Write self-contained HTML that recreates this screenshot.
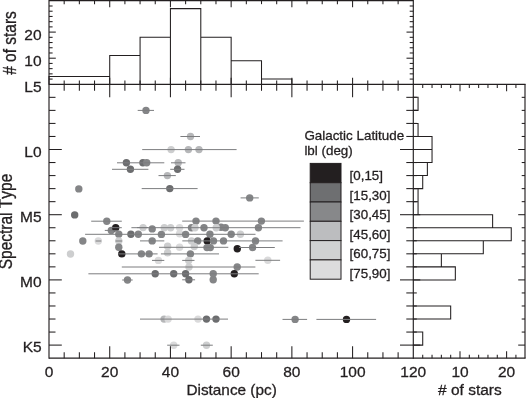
<!DOCTYPE html>
<html lang="en">
<head>
<meta charset="utf-8">
<title>Spectral Type vs Distance</title>
<style>
html,body{margin:0;padding:0;background:#fff;}
body{width:526px;height:398px;overflow:hidden;}
svg{display:block;}
svg text{font-family:"Liberation Sans",sans-serif;fill:#231f20;stroke:#231f20;stroke-width:0.3px;font-kerning:none;}
</style>
</head>
<body>
<svg width="526" height="398" viewBox="0 0 526 398">
<rect x="0" y="0" width="526" height="398" fill="#ffffff"/>
<g>
<circle cx="146.0" cy="110.4" r="3.7" fill="#848587"/>
<circle cx="190.5" cy="136.5" r="3.7" fill="#b6b7b9"/>
<circle cx="171.1" cy="149.6" r="3.7" fill="#cdcecf"/>
<circle cx="188.4" cy="149.6" r="3.7" fill="#b6b7b9"/>
<circle cx="199.0" cy="149.6" r="3.7" fill="#b6b7b9"/>
<circle cx="126.4" cy="162.8" r="3.7" fill="#6c6d6f"/>
<circle cx="142.9" cy="162.8" r="3.7" fill="#6c6d6f"/>
<circle cx="146.7" cy="162.8" r="3.7" fill="#848587"/>
<circle cx="178.2" cy="162.8" r="3.7" fill="#b6b7b9"/>
<circle cx="130.4" cy="169.3" r="3.7" fill="#6c6d6f"/>
<circle cx="177.6" cy="169.3" r="3.7" fill="#6c6d6f"/>
<circle cx="167.4" cy="175.6" r="3.7" fill="#b6b7b9"/>
<circle cx="169.8" cy="188.6" r="3.7" fill="#6c6d6f"/>
<circle cx="78.8" cy="188.9" r="3.7" fill="#848587"/>
<circle cx="249.7" cy="197.9" r="3.7" fill="#848587"/>
<circle cx="74.7" cy="214.9" r="3.7" fill="#6c6d6f"/>
<circle cx="106.8" cy="221.2" r="3.7" fill="#848587"/>
<circle cx="196.0" cy="221.1" r="3.7" fill="#848587"/>
<circle cx="216.0" cy="221.1" r="3.7" fill="#848587"/>
<circle cx="261.4" cy="221.1" r="3.7" fill="#848587"/>
<circle cx="111.3" cy="230.4" r="3.7" fill="#848587"/>
<circle cx="115.7" cy="227.7" r="3.7" fill="#231f20"/>
<circle cx="143.1" cy="227.6" r="3.7" fill="#cdcecf"/>
<circle cx="152.2" cy="228.9" r="3.7" fill="#848587"/>
<circle cx="164.3" cy="227.7" r="3.7" fill="#cdcecf"/>
<circle cx="170.6" cy="227.7" r="3.7" fill="#cdcecf"/>
<circle cx="179.6" cy="227.7" r="3.7" fill="#dadadb"/>
<circle cx="191.5" cy="227.7" r="3.7" fill="#848587"/>
<circle cx="195.0" cy="227.7" r="3.7" fill="#cdcecf"/>
<circle cx="204.0" cy="227.7" r="3.7" fill="#848587"/>
<circle cx="221.0" cy="227.3" r="3.7" fill="#848587"/>
<circle cx="216.2" cy="227.7" r="3.7" fill="#cdcecf"/>
<circle cx="225.3" cy="227.7" r="3.7" fill="#848587"/>
<circle cx="258.4" cy="227.7" r="3.7" fill="#848587"/>
<circle cx="118.8" cy="234.3" r="3.7" fill="#848587"/>
<circle cx="130.9" cy="234.3" r="3.7" fill="#6c6d6f"/>
<circle cx="138.3" cy="234.3" r="3.7" fill="#848587"/>
<circle cx="161.4" cy="234.4" r="3.7" fill="#848587"/>
<circle cx="179.6" cy="233.8" r="3.7" fill="#dadadb"/>
<circle cx="185.6" cy="234.4" r="3.7" fill="#848587"/>
<circle cx="209.9" cy="234.3" r="3.7" fill="#848587"/>
<circle cx="231.2" cy="234.3" r="3.7" fill="#848587"/>
<circle cx="240.4" cy="234.3" r="3.7" fill="#cdcecf"/>
<circle cx="82.8" cy="241.0" r="3.7" fill="#848587"/>
<circle cx="98.3" cy="241.0" r="3.7" fill="#dadadb"/>
<circle cx="118.8" cy="241.0" r="3.7" fill="#cdcecf"/>
<circle cx="152.2" cy="240.9" r="3.7" fill="#848587"/>
<circle cx="191.5" cy="240.9" r="3.7" fill="#cdcecf"/>
<circle cx="197.7" cy="240.9" r="3.7" fill="#848587"/>
<circle cx="207.2" cy="240.9" r="3.7" fill="#231f20"/>
<circle cx="213.5" cy="240.9" r="3.7" fill="#848587"/>
<circle cx="223.5" cy="240.9" r="3.7" fill="#848587"/>
<circle cx="255.5" cy="241.0" r="3.7" fill="#848587"/>
<circle cx="118.8" cy="247.3" r="3.7" fill="#848587"/>
<circle cx="167.6" cy="246.2" r="3.7" fill="#cdcecf"/>
<circle cx="179.6" cy="247.3" r="3.7" fill="#dadadb"/>
<circle cx="194.3" cy="246.5" r="3.7" fill="#cdcecf"/>
<circle cx="207.0" cy="247.6" r="3.7" fill="#848587"/>
<circle cx="210.3" cy="247.6" r="3.7" fill="#848587"/>
<circle cx="237.3" cy="248.7" r="3.7" fill="#231f20"/>
<circle cx="252.6" cy="247.5" r="3.7" fill="#848587"/>
<circle cx="70.5" cy="254.0" r="3.7" fill="#cdcecf"/>
<circle cx="121.8" cy="253.9" r="3.7" fill="#231f20"/>
<circle cx="141.4" cy="253.9" r="3.7" fill="#848587"/>
<circle cx="149.1" cy="253.9" r="3.7" fill="#848587"/>
<circle cx="167.6" cy="252.8" r="3.7" fill="#cdcecf"/>
<circle cx="190.4" cy="253.9" r="3.7" fill="#848587"/>
<circle cx="158.4" cy="260.4" r="3.7" fill="#dadadb"/>
<circle cx="188.7" cy="260.4" r="3.7" fill="#cdcecf"/>
<circle cx="267.8" cy="260.3" r="3.7" fill="#dadadb"/>
<circle cx="189.0" cy="267.0" r="3.7" fill="#cdcecf"/>
<circle cx="237.2" cy="267.0" r="3.7" fill="#848587"/>
<circle cx="155.2" cy="273.8" r="3.7" fill="#6c6d6f"/>
<circle cx="173.7" cy="273.8" r="3.7" fill="#6c6d6f"/>
<circle cx="185.6" cy="273.8" r="3.7" fill="#6c6d6f"/>
<circle cx="213.2" cy="273.8" r="3.7" fill="#848587"/>
<circle cx="234.3" cy="273.7" r="3.7" fill="#231f20"/>
<circle cx="127.5" cy="280.0" r="3.7" fill="#848587"/>
<circle cx="188.9" cy="279.8" r="3.7" fill="#6c6d6f"/>
<circle cx="213.2" cy="279.8" r="3.7" fill="#848587"/>
<circle cx="164.1" cy="319.1" r="3.7" fill="#b6b7b9"/>
<circle cx="168.1" cy="319.1" r="3.7" fill="#dadadb"/>
<circle cx="198.0" cy="319.1" r="3.7" fill="#dadadb"/>
<circle cx="206.5" cy="319.1" r="3.7" fill="#6c6d6f"/>
<circle cx="216.0" cy="319.1" r="3.7" fill="#6c6d6f"/>
<circle cx="295.1" cy="319.4" r="3.7" fill="#848587"/>
<circle cx="346.5" cy="319.4" r="3.7" fill="#231f20"/>
<circle cx="173.7" cy="345.2" r="3.7" fill="#dadadb"/>
<circle cx="206.5" cy="345.2" r="3.7" fill="#cdcecf"/>
</g><g>
<line x1="137.70" y1="110.40" x2="154.00" y2="110.40" stroke="#7c7d7f" stroke-width="1.0"/>
<line x1="180.40" y1="136.50" x2="200.00" y2="136.50" stroke="#7c7d7f" stroke-width="1.0"/>
<line x1="142.20" y1="149.60" x2="236.60" y2="149.60" stroke="#7c7d7f" stroke-width="1.0"/>
<line x1="117.00" y1="162.80" x2="164.30" y2="162.80" stroke="#7c7d7f" stroke-width="1.0"/>
<line x1="171.00" y1="162.80" x2="185.50" y2="162.80" stroke="#7c7d7f" stroke-width="1.0"/>
<line x1="112.00" y1="169.30" x2="148.40" y2="169.30" stroke="#7c7d7f" stroke-width="1.0"/>
<line x1="170.20" y1="169.30" x2="184.50" y2="169.30" stroke="#7c7d7f" stroke-width="1.0"/>
<line x1="158.50" y1="175.60" x2="175.80" y2="175.60" stroke="#7c7d7f" stroke-width="1.0"/>
<line x1="141.70" y1="188.60" x2="197.60" y2="188.60" stroke="#7c7d7f" stroke-width="1.0"/>
<line x1="240.60" y1="197.90" x2="258.80" y2="197.90" stroke="#7c7d7f" stroke-width="1.0"/>
<line x1="91.20" y1="221.20" x2="121.80" y2="221.20" stroke="#7c7d7f" stroke-width="1.0"/>
<line x1="182.20" y1="221.10" x2="303.90" y2="221.10" stroke="#7c7d7f" stroke-width="1.0"/>
<line x1="104.80" y1="230.40" x2="118.00" y2="230.40" stroke="#7c7d7f" stroke-width="1.0"/>
<line x1="110.00" y1="227.70" x2="121.80" y2="227.70" stroke="#7c7d7f" stroke-width="1.0"/>
<line x1="137.00" y1="227.60" x2="148.00" y2="227.60" stroke="#7c7d7f" stroke-width="1.0"/>
<line x1="131.40" y1="227.70" x2="300.50" y2="227.70" stroke="#7c7d7f" stroke-width="1.0"/>
<line x1="85.10" y1="234.30" x2="255.50" y2="234.30" stroke="#7c7d7f" stroke-width="1.0"/>
<line x1="95.60" y1="241.00" x2="101.30" y2="241.00" stroke="#7c7d7f" stroke-width="1.0"/>
<line x1="115.50" y1="241.00" x2="122.20" y2="241.00" stroke="#7c7d7f" stroke-width="1.0"/>
<line x1="140.00" y1="240.90" x2="164.30" y2="240.90" stroke="#7c7d7f" stroke-width="1.0"/>
<line x1="182.30" y1="240.90" x2="282.60" y2="240.90" stroke="#7c7d7f" stroke-width="1.0"/>
<line x1="159.00" y1="247.30" x2="228.30" y2="247.30" stroke="#7c7d7f" stroke-width="1.0"/>
<line x1="239.00" y1="247.50" x2="274.80" y2="247.50" stroke="#7c7d7f" stroke-width="1.0"/>
<line x1="118.40" y1="253.90" x2="157.60" y2="253.90" stroke="#7c7d7f" stroke-width="1.0"/>
<line x1="160.90" y1="253.90" x2="219.00" y2="253.90" stroke="#7c7d7f" stroke-width="1.0"/>
<line x1="152.00" y1="260.40" x2="164.30" y2="260.40" stroke="#7c7d7f" stroke-width="1.0"/>
<line x1="182.20" y1="260.40" x2="194.50" y2="260.40" stroke="#7c7d7f" stroke-width="1.0"/>
<line x1="255.40" y1="260.30" x2="280.10" y2="260.30" stroke="#7c7d7f" stroke-width="1.0"/>
<line x1="121.80" y1="267.00" x2="255.40" y2="267.00" stroke="#7c7d7f" stroke-width="1.0"/>
<line x1="88.40" y1="273.80" x2="258.70" y2="273.80" stroke="#7c7d7f" stroke-width="1.0"/>
<line x1="122.20" y1="280.00" x2="132.70" y2="280.00" stroke="#7c7d7f" stroke-width="1.0"/>
<line x1="182.20" y1="279.80" x2="195.10" y2="279.80" stroke="#7c7d7f" stroke-width="1.0"/>
<line x1="140.00" y1="319.10" x2="228.00" y2="319.10" stroke="#7c7d7f" stroke-width="1.0"/>
<line x1="282.50" y1="319.40" x2="307.10" y2="319.40" stroke="#7c7d7f" stroke-width="1.0"/>
<line x1="316.40" y1="319.40" x2="376.10" y2="319.40" stroke="#7c7d7f" stroke-width="1.0"/>
<line x1="167.20" y1="345.20" x2="179.50" y2="345.20" stroke="#7c7d7f" stroke-width="1.0"/>
<line x1="200.80" y1="345.20" x2="212.80" y2="345.20" stroke="#7c7d7f" stroke-width="1.0"/>
</g>
<path d="M49.00 84.30V76.47M49.00 76.47H109.72M109.72 84.30V55.59M109.72 55.59H140.07M140.07 84.30V37.32M140.07 37.32H170.43M170.43 84.30V8.61M170.43 8.61H200.79M200.79 84.30V8.61M200.79 37.32H231.15M231.15 84.30V37.32M231.15 60.81H261.51M261.51 84.30V60.81M261.51 79.08H291.87M291.87 84.30V79.08" fill="none" stroke="#231f20" stroke-width="1.05" stroke-linecap="square"/>
<line x1="49.00" y1="0.55" x2="413.30" y2="0.55" stroke="#231f20" stroke-width="1.15"/>
<line x1="49.00" y1="0.05" x2="49.00" y2="358.71" stroke="#231f20" stroke-width="1.15"/>
<line x1="413.30" y1="0.05" x2="413.30" y2="358.71" stroke="#231f20" stroke-width="1.15"/>
<line x1="49.00" y1="84.30" x2="525.58" y2="84.30" stroke="#231f20" stroke-width="1.15"/>
<line x1="49.00" y1="358.14" x2="525.58" y2="358.14" stroke="#231f20" stroke-width="1.15"/>
<line x1="525.00" y1="84.30" x2="525.00" y2="358.14" stroke="#231f20" stroke-width="1.15"/>
<line x1="64.18" y1="0.55" x2="64.18" y2="4.15" stroke="#231f20" stroke-width="1.05"/>
<line x1="64.18" y1="84.30" x2="64.18" y2="80.50" stroke="#231f20" stroke-width="1.05"/>
<line x1="64.18" y1="84.30" x2="64.18" y2="90.80" stroke="#231f20" stroke-width="1.05"/>
<line x1="64.18" y1="358.14" x2="64.18" y2="352.14" stroke="#231f20" stroke-width="1.05"/>
<line x1="79.36" y1="0.55" x2="79.36" y2="4.15" stroke="#231f20" stroke-width="1.05"/>
<line x1="79.36" y1="84.30" x2="79.36" y2="80.50" stroke="#231f20" stroke-width="1.05"/>
<line x1="79.36" y1="84.30" x2="79.36" y2="90.80" stroke="#231f20" stroke-width="1.05"/>
<line x1="79.36" y1="358.14" x2="79.36" y2="352.14" stroke="#231f20" stroke-width="1.05"/>
<line x1="94.54" y1="0.55" x2="94.54" y2="4.15" stroke="#231f20" stroke-width="1.05"/>
<line x1="94.54" y1="84.30" x2="94.54" y2="80.50" stroke="#231f20" stroke-width="1.05"/>
<line x1="94.54" y1="84.30" x2="94.54" y2="90.80" stroke="#231f20" stroke-width="1.05"/>
<line x1="94.54" y1="358.14" x2="94.54" y2="352.14" stroke="#231f20" stroke-width="1.05"/>
<line x1="109.72" y1="0.55" x2="109.72" y2="7.35" stroke="#231f20" stroke-width="1.05"/>
<line x1="109.72" y1="84.30" x2="109.72" y2="77.80" stroke="#231f20" stroke-width="1.05"/>
<line x1="109.72" y1="84.30" x2="109.72" y2="97.30" stroke="#231f20" stroke-width="1.05"/>
<line x1="109.72" y1="358.14" x2="109.72" y2="346.14" stroke="#231f20" stroke-width="1.05"/>
<line x1="124.90" y1="0.55" x2="124.90" y2="4.15" stroke="#231f20" stroke-width="1.05"/>
<line x1="124.90" y1="84.30" x2="124.90" y2="80.50" stroke="#231f20" stroke-width="1.05"/>
<line x1="124.90" y1="84.30" x2="124.90" y2="90.80" stroke="#231f20" stroke-width="1.05"/>
<line x1="124.90" y1="358.14" x2="124.90" y2="352.14" stroke="#231f20" stroke-width="1.05"/>
<line x1="140.07" y1="0.55" x2="140.07" y2="4.15" stroke="#231f20" stroke-width="1.05"/>
<line x1="140.07" y1="84.30" x2="140.07" y2="80.50" stroke="#231f20" stroke-width="1.05"/>
<line x1="140.07" y1="84.30" x2="140.07" y2="90.80" stroke="#231f20" stroke-width="1.05"/>
<line x1="140.07" y1="358.14" x2="140.07" y2="352.14" stroke="#231f20" stroke-width="1.05"/>
<line x1="155.25" y1="0.55" x2="155.25" y2="4.15" stroke="#231f20" stroke-width="1.05"/>
<line x1="155.25" y1="84.30" x2="155.25" y2="80.50" stroke="#231f20" stroke-width="1.05"/>
<line x1="155.25" y1="84.30" x2="155.25" y2="90.80" stroke="#231f20" stroke-width="1.05"/>
<line x1="155.25" y1="358.14" x2="155.25" y2="352.14" stroke="#231f20" stroke-width="1.05"/>
<line x1="170.43" y1="0.55" x2="170.43" y2="7.35" stroke="#231f20" stroke-width="1.05"/>
<line x1="170.43" y1="84.30" x2="170.43" y2="77.80" stroke="#231f20" stroke-width="1.05"/>
<line x1="170.43" y1="84.30" x2="170.43" y2="97.30" stroke="#231f20" stroke-width="1.05"/>
<line x1="170.43" y1="358.14" x2="170.43" y2="346.14" stroke="#231f20" stroke-width="1.05"/>
<line x1="185.61" y1="0.55" x2="185.61" y2="4.15" stroke="#231f20" stroke-width="1.05"/>
<line x1="185.61" y1="84.30" x2="185.61" y2="80.50" stroke="#231f20" stroke-width="1.05"/>
<line x1="185.61" y1="84.30" x2="185.61" y2="90.80" stroke="#231f20" stroke-width="1.05"/>
<line x1="185.61" y1="358.14" x2="185.61" y2="352.14" stroke="#231f20" stroke-width="1.05"/>
<line x1="200.79" y1="0.55" x2="200.79" y2="4.15" stroke="#231f20" stroke-width="1.05"/>
<line x1="200.79" y1="84.30" x2="200.79" y2="80.50" stroke="#231f20" stroke-width="1.05"/>
<line x1="200.79" y1="84.30" x2="200.79" y2="90.80" stroke="#231f20" stroke-width="1.05"/>
<line x1="200.79" y1="358.14" x2="200.79" y2="352.14" stroke="#231f20" stroke-width="1.05"/>
<line x1="215.97" y1="0.55" x2="215.97" y2="4.15" stroke="#231f20" stroke-width="1.05"/>
<line x1="215.97" y1="84.30" x2="215.97" y2="80.50" stroke="#231f20" stroke-width="1.05"/>
<line x1="215.97" y1="84.30" x2="215.97" y2="90.80" stroke="#231f20" stroke-width="1.05"/>
<line x1="215.97" y1="358.14" x2="215.97" y2="352.14" stroke="#231f20" stroke-width="1.05"/>
<line x1="231.15" y1="0.55" x2="231.15" y2="7.35" stroke="#231f20" stroke-width="1.05"/>
<line x1="231.15" y1="84.30" x2="231.15" y2="77.80" stroke="#231f20" stroke-width="1.05"/>
<line x1="231.15" y1="84.30" x2="231.15" y2="97.30" stroke="#231f20" stroke-width="1.05"/>
<line x1="231.15" y1="358.14" x2="231.15" y2="346.14" stroke="#231f20" stroke-width="1.05"/>
<line x1="246.33" y1="0.55" x2="246.33" y2="4.15" stroke="#231f20" stroke-width="1.05"/>
<line x1="246.33" y1="84.30" x2="246.33" y2="80.50" stroke="#231f20" stroke-width="1.05"/>
<line x1="246.33" y1="84.30" x2="246.33" y2="90.80" stroke="#231f20" stroke-width="1.05"/>
<line x1="246.33" y1="358.14" x2="246.33" y2="352.14" stroke="#231f20" stroke-width="1.05"/>
<line x1="261.51" y1="0.55" x2="261.51" y2="4.15" stroke="#231f20" stroke-width="1.05"/>
<line x1="261.51" y1="84.30" x2="261.51" y2="80.50" stroke="#231f20" stroke-width="1.05"/>
<line x1="261.51" y1="84.30" x2="261.51" y2="90.80" stroke="#231f20" stroke-width="1.05"/>
<line x1="261.51" y1="358.14" x2="261.51" y2="352.14" stroke="#231f20" stroke-width="1.05"/>
<line x1="276.69" y1="0.55" x2="276.69" y2="4.15" stroke="#231f20" stroke-width="1.05"/>
<line x1="276.69" y1="84.30" x2="276.69" y2="80.50" stroke="#231f20" stroke-width="1.05"/>
<line x1="276.69" y1="84.30" x2="276.69" y2="90.80" stroke="#231f20" stroke-width="1.05"/>
<line x1="276.69" y1="358.14" x2="276.69" y2="352.14" stroke="#231f20" stroke-width="1.05"/>
<line x1="291.87" y1="0.55" x2="291.87" y2="7.35" stroke="#231f20" stroke-width="1.05"/>
<line x1="291.87" y1="84.30" x2="291.87" y2="77.80" stroke="#231f20" stroke-width="1.05"/>
<line x1="291.87" y1="84.30" x2="291.87" y2="97.30" stroke="#231f20" stroke-width="1.05"/>
<line x1="291.87" y1="358.14" x2="291.87" y2="346.14" stroke="#231f20" stroke-width="1.05"/>
<line x1="307.05" y1="0.55" x2="307.05" y2="4.15" stroke="#231f20" stroke-width="1.05"/>
<line x1="307.05" y1="84.30" x2="307.05" y2="80.50" stroke="#231f20" stroke-width="1.05"/>
<line x1="307.05" y1="84.30" x2="307.05" y2="90.80" stroke="#231f20" stroke-width="1.05"/>
<line x1="307.05" y1="358.14" x2="307.05" y2="352.14" stroke="#231f20" stroke-width="1.05"/>
<line x1="322.23" y1="0.55" x2="322.23" y2="4.15" stroke="#231f20" stroke-width="1.05"/>
<line x1="322.23" y1="84.30" x2="322.23" y2="80.50" stroke="#231f20" stroke-width="1.05"/>
<line x1="322.23" y1="84.30" x2="322.23" y2="90.80" stroke="#231f20" stroke-width="1.05"/>
<line x1="322.23" y1="358.14" x2="322.23" y2="352.14" stroke="#231f20" stroke-width="1.05"/>
<line x1="337.40" y1="0.55" x2="337.40" y2="4.15" stroke="#231f20" stroke-width="1.05"/>
<line x1="337.40" y1="84.30" x2="337.40" y2="80.50" stroke="#231f20" stroke-width="1.05"/>
<line x1="337.40" y1="84.30" x2="337.40" y2="90.80" stroke="#231f20" stroke-width="1.05"/>
<line x1="337.40" y1="358.14" x2="337.40" y2="352.14" stroke="#231f20" stroke-width="1.05"/>
<line x1="352.58" y1="0.55" x2="352.58" y2="7.35" stroke="#231f20" stroke-width="1.05"/>
<line x1="352.58" y1="84.30" x2="352.58" y2="77.80" stroke="#231f20" stroke-width="1.05"/>
<line x1="352.58" y1="84.30" x2="352.58" y2="97.30" stroke="#231f20" stroke-width="1.05"/>
<line x1="352.58" y1="358.14" x2="352.58" y2="346.14" stroke="#231f20" stroke-width="1.05"/>
<line x1="367.76" y1="0.55" x2="367.76" y2="4.15" stroke="#231f20" stroke-width="1.05"/>
<line x1="367.76" y1="84.30" x2="367.76" y2="80.50" stroke="#231f20" stroke-width="1.05"/>
<line x1="367.76" y1="84.30" x2="367.76" y2="90.80" stroke="#231f20" stroke-width="1.05"/>
<line x1="367.76" y1="358.14" x2="367.76" y2="352.14" stroke="#231f20" stroke-width="1.05"/>
<line x1="382.94" y1="0.55" x2="382.94" y2="4.15" stroke="#231f20" stroke-width="1.05"/>
<line x1="382.94" y1="84.30" x2="382.94" y2="80.50" stroke="#231f20" stroke-width="1.05"/>
<line x1="382.94" y1="84.30" x2="382.94" y2="90.80" stroke="#231f20" stroke-width="1.05"/>
<line x1="382.94" y1="358.14" x2="382.94" y2="352.14" stroke="#231f20" stroke-width="1.05"/>
<line x1="398.12" y1="0.55" x2="398.12" y2="4.15" stroke="#231f20" stroke-width="1.05"/>
<line x1="398.12" y1="84.30" x2="398.12" y2="80.50" stroke="#231f20" stroke-width="1.05"/>
<line x1="398.12" y1="84.30" x2="398.12" y2="90.80" stroke="#231f20" stroke-width="1.05"/>
<line x1="398.12" y1="358.14" x2="398.12" y2="352.14" stroke="#231f20" stroke-width="1.05"/>
<line x1="49.00" y1="79.08" x2="52.60" y2="79.08" stroke="#231f20" stroke-width="1.05"/>
<line x1="413.30" y1="79.08" x2="409.70" y2="79.08" stroke="#231f20" stroke-width="1.05"/>
<line x1="49.00" y1="73.86" x2="52.60" y2="73.86" stroke="#231f20" stroke-width="1.05"/>
<line x1="413.30" y1="73.86" x2="409.70" y2="73.86" stroke="#231f20" stroke-width="1.05"/>
<line x1="49.00" y1="68.64" x2="52.60" y2="68.64" stroke="#231f20" stroke-width="1.05"/>
<line x1="413.30" y1="68.64" x2="409.70" y2="68.64" stroke="#231f20" stroke-width="1.05"/>
<line x1="49.00" y1="63.42" x2="52.60" y2="63.42" stroke="#231f20" stroke-width="1.05"/>
<line x1="413.30" y1="63.42" x2="409.70" y2="63.42" stroke="#231f20" stroke-width="1.05"/>
<line x1="49.00" y1="58.20" x2="55.80" y2="58.20" stroke="#231f20" stroke-width="1.05"/>
<line x1="413.30" y1="58.20" x2="406.50" y2="58.20" stroke="#231f20" stroke-width="1.05"/>
<line x1="49.00" y1="52.98" x2="52.60" y2="52.98" stroke="#231f20" stroke-width="1.05"/>
<line x1="413.30" y1="52.98" x2="409.70" y2="52.98" stroke="#231f20" stroke-width="1.05"/>
<line x1="49.00" y1="47.76" x2="52.60" y2="47.76" stroke="#231f20" stroke-width="1.05"/>
<line x1="413.30" y1="47.76" x2="409.70" y2="47.76" stroke="#231f20" stroke-width="1.05"/>
<line x1="49.00" y1="42.54" x2="52.60" y2="42.54" stroke="#231f20" stroke-width="1.05"/>
<line x1="413.30" y1="42.54" x2="409.70" y2="42.54" stroke="#231f20" stroke-width="1.05"/>
<line x1="49.00" y1="37.32" x2="52.60" y2="37.32" stroke="#231f20" stroke-width="1.05"/>
<line x1="413.30" y1="37.32" x2="409.70" y2="37.32" stroke="#231f20" stroke-width="1.05"/>
<line x1="49.00" y1="32.10" x2="55.80" y2="32.10" stroke="#231f20" stroke-width="1.05"/>
<line x1="413.30" y1="32.10" x2="406.50" y2="32.10" stroke="#231f20" stroke-width="1.05"/>
<line x1="49.00" y1="26.88" x2="52.60" y2="26.88" stroke="#231f20" stroke-width="1.05"/>
<line x1="413.30" y1="26.88" x2="409.70" y2="26.88" stroke="#231f20" stroke-width="1.05"/>
<line x1="49.00" y1="21.66" x2="52.60" y2="21.66" stroke="#231f20" stroke-width="1.05"/>
<line x1="413.30" y1="21.66" x2="409.70" y2="21.66" stroke="#231f20" stroke-width="1.05"/>
<line x1="49.00" y1="16.44" x2="52.60" y2="16.44" stroke="#231f20" stroke-width="1.05"/>
<line x1="413.30" y1="16.44" x2="409.70" y2="16.44" stroke="#231f20" stroke-width="1.05"/>
<line x1="49.00" y1="11.22" x2="52.60" y2="11.22" stroke="#231f20" stroke-width="1.05"/>
<line x1="413.30" y1="11.22" x2="409.70" y2="11.22" stroke="#231f20" stroke-width="1.05"/>
<line x1="49.00" y1="6.00" x2="52.60" y2="6.00" stroke="#231f20" stroke-width="1.05"/>
<line x1="413.30" y1="6.00" x2="409.70" y2="6.00" stroke="#231f20" stroke-width="1.05"/>
<line x1="49.00" y1="97.34" x2="55.50" y2="97.34" stroke="#231f20" stroke-width="1.05"/>
<line x1="406.30" y1="97.34" x2="416.80" y2="97.34" stroke="#231f20" stroke-width="1.05"/>
<line x1="525.00" y1="97.34" x2="521.70" y2="97.34" stroke="#231f20" stroke-width="1.05"/>
<line x1="49.00" y1="110.38" x2="55.50" y2="110.38" stroke="#231f20" stroke-width="1.05"/>
<line x1="406.30" y1="110.38" x2="416.80" y2="110.38" stroke="#231f20" stroke-width="1.05"/>
<line x1="525.00" y1="110.38" x2="521.70" y2="110.38" stroke="#231f20" stroke-width="1.05"/>
<line x1="49.00" y1="123.42" x2="55.50" y2="123.42" stroke="#231f20" stroke-width="1.05"/>
<line x1="406.30" y1="123.42" x2="416.80" y2="123.42" stroke="#231f20" stroke-width="1.05"/>
<line x1="525.00" y1="123.42" x2="521.70" y2="123.42" stroke="#231f20" stroke-width="1.05"/>
<line x1="49.00" y1="136.46" x2="55.50" y2="136.46" stroke="#231f20" stroke-width="1.05"/>
<line x1="406.30" y1="136.46" x2="416.80" y2="136.46" stroke="#231f20" stroke-width="1.05"/>
<line x1="525.00" y1="136.46" x2="521.70" y2="136.46" stroke="#231f20" stroke-width="1.05"/>
<line x1="49.00" y1="149.50" x2="61.80" y2="149.50" stroke="#231f20" stroke-width="1.05"/>
<line x1="400.00" y1="149.50" x2="420.30" y2="149.50" stroke="#231f20" stroke-width="1.05"/>
<line x1="525.00" y1="149.50" x2="518.20" y2="149.50" stroke="#231f20" stroke-width="1.05"/>
<line x1="49.00" y1="162.54" x2="55.50" y2="162.54" stroke="#231f20" stroke-width="1.05"/>
<line x1="406.30" y1="162.54" x2="416.80" y2="162.54" stroke="#231f20" stroke-width="1.05"/>
<line x1="525.00" y1="162.54" x2="521.70" y2="162.54" stroke="#231f20" stroke-width="1.05"/>
<line x1="49.00" y1="175.58" x2="55.50" y2="175.58" stroke="#231f20" stroke-width="1.05"/>
<line x1="406.30" y1="175.58" x2="416.80" y2="175.58" stroke="#231f20" stroke-width="1.05"/>
<line x1="525.00" y1="175.58" x2="521.70" y2="175.58" stroke="#231f20" stroke-width="1.05"/>
<line x1="49.00" y1="188.62" x2="55.50" y2="188.62" stroke="#231f20" stroke-width="1.05"/>
<line x1="406.30" y1="188.62" x2="416.80" y2="188.62" stroke="#231f20" stroke-width="1.05"/>
<line x1="525.00" y1="188.62" x2="521.70" y2="188.62" stroke="#231f20" stroke-width="1.05"/>
<line x1="49.00" y1="201.66" x2="55.50" y2="201.66" stroke="#231f20" stroke-width="1.05"/>
<line x1="406.30" y1="201.66" x2="416.80" y2="201.66" stroke="#231f20" stroke-width="1.05"/>
<line x1="525.00" y1="201.66" x2="521.70" y2="201.66" stroke="#231f20" stroke-width="1.05"/>
<line x1="49.00" y1="214.70" x2="61.80" y2="214.70" stroke="#231f20" stroke-width="1.05"/>
<line x1="400.00" y1="214.70" x2="420.30" y2="214.70" stroke="#231f20" stroke-width="1.05"/>
<line x1="525.00" y1="214.70" x2="518.20" y2="214.70" stroke="#231f20" stroke-width="1.05"/>
<line x1="49.00" y1="227.74" x2="55.50" y2="227.74" stroke="#231f20" stroke-width="1.05"/>
<line x1="406.30" y1="227.74" x2="416.80" y2="227.74" stroke="#231f20" stroke-width="1.05"/>
<line x1="525.00" y1="227.74" x2="521.70" y2="227.74" stroke="#231f20" stroke-width="1.05"/>
<line x1="49.00" y1="240.78" x2="55.50" y2="240.78" stroke="#231f20" stroke-width="1.05"/>
<line x1="406.30" y1="240.78" x2="416.80" y2="240.78" stroke="#231f20" stroke-width="1.05"/>
<line x1="525.00" y1="240.78" x2="521.70" y2="240.78" stroke="#231f20" stroke-width="1.05"/>
<line x1="49.00" y1="253.82" x2="55.50" y2="253.82" stroke="#231f20" stroke-width="1.05"/>
<line x1="406.30" y1="253.82" x2="416.80" y2="253.82" stroke="#231f20" stroke-width="1.05"/>
<line x1="525.00" y1="253.82" x2="521.70" y2="253.82" stroke="#231f20" stroke-width="1.05"/>
<line x1="49.00" y1="266.86" x2="55.50" y2="266.86" stroke="#231f20" stroke-width="1.05"/>
<line x1="406.30" y1="266.86" x2="416.80" y2="266.86" stroke="#231f20" stroke-width="1.05"/>
<line x1="525.00" y1="266.86" x2="521.70" y2="266.86" stroke="#231f20" stroke-width="1.05"/>
<line x1="49.00" y1="279.90" x2="61.80" y2="279.90" stroke="#231f20" stroke-width="1.05"/>
<line x1="400.00" y1="279.90" x2="420.30" y2="279.90" stroke="#231f20" stroke-width="1.05"/>
<line x1="525.00" y1="279.90" x2="518.20" y2="279.90" stroke="#231f20" stroke-width="1.05"/>
<line x1="49.00" y1="292.94" x2="55.50" y2="292.94" stroke="#231f20" stroke-width="1.05"/>
<line x1="406.30" y1="292.94" x2="416.80" y2="292.94" stroke="#231f20" stroke-width="1.05"/>
<line x1="525.00" y1="292.94" x2="521.70" y2="292.94" stroke="#231f20" stroke-width="1.05"/>
<line x1="49.00" y1="305.98" x2="55.50" y2="305.98" stroke="#231f20" stroke-width="1.05"/>
<line x1="406.30" y1="305.98" x2="416.80" y2="305.98" stroke="#231f20" stroke-width="1.05"/>
<line x1="525.00" y1="305.98" x2="521.70" y2="305.98" stroke="#231f20" stroke-width="1.05"/>
<line x1="49.00" y1="319.02" x2="55.50" y2="319.02" stroke="#231f20" stroke-width="1.05"/>
<line x1="406.30" y1="319.02" x2="416.80" y2="319.02" stroke="#231f20" stroke-width="1.05"/>
<line x1="525.00" y1="319.02" x2="521.70" y2="319.02" stroke="#231f20" stroke-width="1.05"/>
<line x1="49.00" y1="332.06" x2="55.50" y2="332.06" stroke="#231f20" stroke-width="1.05"/>
<line x1="406.30" y1="332.06" x2="416.80" y2="332.06" stroke="#231f20" stroke-width="1.05"/>
<line x1="525.00" y1="332.06" x2="521.70" y2="332.06" stroke="#231f20" stroke-width="1.05"/>
<line x1="49.00" y1="345.10" x2="61.80" y2="345.10" stroke="#231f20" stroke-width="1.05"/>
<line x1="400.00" y1="345.10" x2="420.30" y2="345.10" stroke="#231f20" stroke-width="1.05"/>
<line x1="525.00" y1="345.10" x2="518.20" y2="345.10" stroke="#231f20" stroke-width="1.05"/>
<line x1="422.72" y1="84.30" x2="422.72" y2="88.10" stroke="#231f20" stroke-width="1.05"/>
<line x1="422.72" y1="358.14" x2="422.72" y2="354.64" stroke="#231f20" stroke-width="1.05"/>
<line x1="432.04" y1="84.30" x2="432.04" y2="88.10" stroke="#231f20" stroke-width="1.05"/>
<line x1="432.04" y1="358.14" x2="432.04" y2="354.64" stroke="#231f20" stroke-width="1.05"/>
<line x1="441.36" y1="84.30" x2="441.36" y2="88.10" stroke="#231f20" stroke-width="1.05"/>
<line x1="441.36" y1="358.14" x2="441.36" y2="354.64" stroke="#231f20" stroke-width="1.05"/>
<line x1="450.68" y1="84.30" x2="450.68" y2="88.10" stroke="#231f20" stroke-width="1.05"/>
<line x1="450.68" y1="358.14" x2="450.68" y2="354.64" stroke="#231f20" stroke-width="1.05"/>
<line x1="460.00" y1="84.30" x2="460.00" y2="91.30" stroke="#231f20" stroke-width="1.05"/>
<line x1="460.00" y1="358.14" x2="460.00" y2="351.14" stroke="#231f20" stroke-width="1.05"/>
<line x1="469.32" y1="84.30" x2="469.32" y2="88.10" stroke="#231f20" stroke-width="1.05"/>
<line x1="469.32" y1="358.14" x2="469.32" y2="354.64" stroke="#231f20" stroke-width="1.05"/>
<line x1="478.64" y1="84.30" x2="478.64" y2="88.10" stroke="#231f20" stroke-width="1.05"/>
<line x1="478.64" y1="358.14" x2="478.64" y2="354.64" stroke="#231f20" stroke-width="1.05"/>
<line x1="487.96" y1="84.30" x2="487.96" y2="88.10" stroke="#231f20" stroke-width="1.05"/>
<line x1="487.96" y1="358.14" x2="487.96" y2="354.64" stroke="#231f20" stroke-width="1.05"/>
<line x1="497.28" y1="84.30" x2="497.28" y2="88.10" stroke="#231f20" stroke-width="1.05"/>
<line x1="497.28" y1="358.14" x2="497.28" y2="354.64" stroke="#231f20" stroke-width="1.05"/>
<line x1="506.60" y1="84.30" x2="506.60" y2="91.30" stroke="#231f20" stroke-width="1.05"/>
<line x1="506.60" y1="358.14" x2="506.60" y2="351.14" stroke="#231f20" stroke-width="1.05"/>
<line x1="515.92" y1="84.30" x2="515.92" y2="88.10" stroke="#231f20" stroke-width="1.05"/>
<line x1="515.92" y1="358.14" x2="515.92" y2="354.64" stroke="#231f20" stroke-width="1.05"/>
<path d="M413.40 97.34H418.06M418.06 97.34V110.38M413.40 110.38H418.06M413.40 123.42H418.06M418.06 123.42V136.46M413.40 136.46H432.04M432.04 136.46V149.50M413.40 149.50H432.04M432.04 149.50V162.54M413.40 162.54H432.04M427.38 162.54V175.58M413.40 175.58H427.38M422.72 175.58V188.62M413.40 188.62H422.72M418.06 188.62V201.66M413.40 201.66H418.06M418.06 201.66V214.70M413.40 214.70H492.62M492.62 214.70V227.74M413.40 227.74H511.26M511.26 227.74V240.78M413.40 240.78H511.26M483.30 240.78V253.82M413.40 253.82H483.30M441.36 253.82V266.86M413.40 266.86H455.34M455.34 266.86V279.90M413.40 279.90H455.34M413.40 305.98H450.68M450.68 305.98V319.02M413.40 319.02H450.68M413.40 332.06H422.72M422.72 332.06V345.10M413.40 345.10H422.72" fill="none" stroke="#231f20" stroke-width="1.05" stroke-linecap="square"/>
<rect x="310.2" y="163.40" width="30.8" height="19.3" fill="#231f20" stroke="#231f20" stroke-width="1"/>
<text x="349.60" y="180.40" font-size="13.35" text-anchor="start">[0,15]</text>
<rect x="310.2" y="182.70" width="30.8" height="19.3" fill="#6e6f71" stroke="#231f20" stroke-width="1"/>
<text x="349.60" y="199.86" font-size="13.35" text-anchor="start">[15,30]</text>
<rect x="310.2" y="202.00" width="30.8" height="19.3" fill="#87888a" stroke="#231f20" stroke-width="1"/>
<text x="349.60" y="219.32" font-size="13.35" text-anchor="start">[30,45]</text>
<rect x="310.2" y="221.30" width="30.8" height="19.3" fill="#bcbdbf" stroke="#231f20" stroke-width="1"/>
<text x="349.60" y="238.78" font-size="13.35" text-anchor="start">[45,60]</text>
<rect x="310.2" y="240.60" width="30.8" height="19.3" fill="#d0d1d2" stroke="#231f20" stroke-width="1"/>
<text x="349.60" y="258.24" font-size="13.35" text-anchor="start">[60,75]</text>
<rect x="310.2" y="259.90" width="30.8" height="19.3" fill="#dcdcdd" stroke="#231f20" stroke-width="1"/>
<text x="349.60" y="277.70" font-size="13.35" text-anchor="start">[75,90]</text>
<text x="304.40" y="139.60" font-size="13.4" text-anchor="start">Galactic Latitude</text>
<text x="304.40" y="155.20" font-size="13.4" text-anchor="start">lbl (deg)</text>
<text x="49.00" y="377.10" font-size="15.5" text-anchor="middle">0</text>
<text x="109.72" y="377.10" font-size="15.5" text-anchor="middle">20</text>
<text x="170.43" y="377.10" font-size="15.5" text-anchor="middle">40</text>
<text x="231.15" y="377.10" font-size="15.5" text-anchor="middle">60</text>
<text x="291.87" y="377.10" font-size="15.5" text-anchor="middle">80</text>
<text x="352.58" y="377.10" font-size="15.5" text-anchor="middle">100</text>
<text x="413.30" y="377.10" font-size="15.5" text-anchor="middle">120</text>
<text x="460.00" y="377.10" font-size="15.5" text-anchor="middle">10</text>
<text x="506.60" y="377.10" font-size="15.5" text-anchor="middle">20</text>
<text x="41.60" y="91.50" font-size="15.5" text-anchor="end">L5</text>
<text x="41.60" y="156.70" font-size="15.5" text-anchor="end">L0</text>
<text x="41.60" y="221.90" font-size="15.5" text-anchor="end">M5</text>
<text x="41.60" y="287.10" font-size="15.5" text-anchor="end">M0</text>
<text x="41.60" y="352.30" font-size="15.5" text-anchor="end">K5</text>
<text x="41.60" y="65.80" font-size="15.5" text-anchor="end">10</text>
<text x="41.60" y="39.70" font-size="15.5" text-anchor="end">20</text>
<text x="231.60" y="395.10" font-size="15.35" text-anchor="middle">Distance (pc)</text>
<text x="469.90" y="395.00" font-size="15.5" text-anchor="middle"># of stars</text>
<text x="0" y="0" font-size="15.5" text-anchor="middle" transform="translate(12.20 221.50) rotate(-90) scale(1 1.14)">Spectral Type</text>
<text x="0" y="0" font-size="15.5" text-anchor="middle" transform="translate(16.00 43.00) rotate(-90) scale(1 1.14)"># of stars</text>
</svg>
</body>
</html>
